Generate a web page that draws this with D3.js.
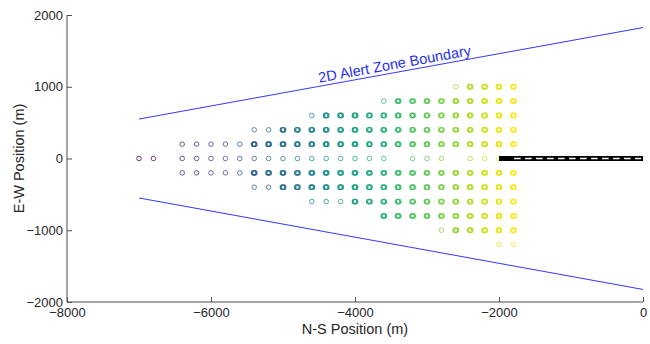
<!DOCTYPE html>
<html>
<head>
<meta charset="utf-8">
<script src="https://cdn.jsdelivr.net/npm/d3@7"></script>
<style>
  html, body { margin: 0; padding: 0; background: #fff; }
  svg { display: block; }
  text { font-family: "Liberation Sans", Arial, Helvetica, sans-serif; }
</style>
</head>
<body>
<svg id="chart" width="650" height="344"></svg>
<script>
// Axis ticks
const xTicks = [-8000, -6000, -4000, -2000, 0];
const yTicks = [-2000, -1000, 0, 1000, 2000];

// Grid columns (N-S position, m) where encounter samples were placed
const gridCols = [-7000, -6800, -6400, -6200, -6000, -5800, -5600, -5400, -5200, -5000,
                  -4800, -4600, -4400, -4200, -4000, -3800, -3600, -3400, -3200, -3000,
                  -2800, -2600, -2400, -2200, -2000, -1800];

// Grid rows (E-W position, m), first column of each row, and where repeated samples begin
const rowY       = [1000, 800, 600, 400, 200, 0, -200, -400, -600, -800, -1000, -1200];
const rowFirstX  = [-2600, -3600, -4600, -5400, -6400, -7000, -6400, -5400, -4600, -3600, -2800, -2000];
const rowRepeatX = [-2400, -3400, -4400, -5000, -5400, 1, -5400, -5000, -4000, -3600, -2600, 1];

// Columns on the centreline with no sample
const centreGaps = [-6600, -3400, -2600];

// Alert zone boundary (upper and lower edges)
const boundaryX = [-7000, 0];
const boundaryUpperY = [550, 1825];
const boundaryLowerY = [-550, -1825];

// Runway extent along the centreline
const runwayX = [-2000, 0];
const runwayY = 0;

const svg = d3.select("#chart");
const plotL = 67, plotR = 643, plotT = 15, plotB = 302;

const x = d3.scaleLinear().domain([-8000, 0]).range([plotL, plotR]);
const y = d3.scaleLinear().domain([-2000, 2000]).range([plotB, plotT]);
const color = d3.scaleSequential(d3.interpolateViridis).domain([-7000, -1800]);

// Build sample list from the grid description
const samples = [];
rowY.forEach((ry, i) => {
  gridCols.forEach(cx => {
    if (cx < rowFirstX[i]) return;
    if (ry === 0 && centreGaps.includes(cx)) return;
    samples.push({ x: cx, y: ry, repeated: cx >= rowRepeatX[i] });
  });
});

// Samples
const pts = svg.append("g").attr("fill", "none");
samples.forEach(d => {
  const offs = d.repeated ? [-0.5, 0.5] : [0];
  offs.forEach(o => {
    pts.append("circle")
      .attr("cx", x(d.x) + o)
      .attr("cy", y(d.y))
      .attr("r", 2.3)
      .attr("stroke", color(d.x))
      .attr("stroke-width", d.repeated ? 1.2 : 0.9)
      .attr("stroke-opacity", d.repeated ? 1 : 0.85);
  });
});

// Runway: black strip with dashed white centreline
svg.append("line")
  .attr("x1", x(runwayX[0])).attr("x2", x(runwayX[1]))
  .attr("y1", y(runwayY)).attr("y2", y(runwayY))
  .attr("stroke", "#000").attr("stroke-width", 5);
svg.append("line")
  .attr("x1", x(-1790)).attr("x2", x(runwayX[1]) - 2)
  .attr("y1", y(runwayY)).attr("y2", y(runwayY))
  .attr("stroke", "#fff").attr("stroke-width", 1.3)
  .attr("stroke-dasharray", "6.5,4.5");

// Boundary lines
const line = d3.line().x(d => x(d[0])).y(d => y(d[1]));
[boundaryUpperY, boundaryLowerY].forEach(ys => {
  svg.append("path")
    .attr("d", line(boundaryX.map((bx, i) => [bx, ys[i]])))
    .attr("fill", "none")
    .attr("stroke", "#3636ff")
    .attr("stroke-width", 1);
});

// Boundary label along the upper edge
const labelX = -3430;
const t = (labelX - boundaryX[0]) / (boundaryX[1] - boundaryX[0]);
const labelY = boundaryUpperY[0] + t * (boundaryUpperY[1] - boundaryUpperY[0]);
const ang = Math.atan2(y(boundaryUpperY[1]) - y(boundaryUpperY[0]),
                       x(boundaryX[1]) - x(boundaryX[0])) * 180 / Math.PI;
svg.append("text")
  .attr("transform", `translate(${x(labelX)},${y(labelY)}) rotate(${ang}) translate(0,-3.5)`)
  .attr("text-anchor", "middle")
  .attr("fill", "#1f2ff0")
  .attr("font-size", 14.5)
  .text("2D Alert Zone Boundary");

// Axes
const axisColor = "#4d4d4d";
const xAxis = svg.append("g").attr("transform", `translate(0,${plotB})`)
  .call(d3.axisBottom(x).tickValues(xTicks).tickSize(-5).tickPadding(9).tickFormat(d3.format("d")));
const yAxis = svg.append("g").attr("transform", `translate(${plotL},0)`)
  .call(d3.axisLeft(y).tickValues(yTicks).tickSize(-5).tickPadding(4).tickFormat(d3.format("d")));
xAxis.select(".domain").attr("stroke", axisColor).attr("d", `M${plotL},0H${plotR}`);
yAxis.select(".domain").attr("stroke", axisColor).attr("d", `M0,${plotT}V${plotB}`);
[xAxis, yAxis].forEach(g => {
  g.selectAll(".tick line").attr("stroke", axisColor);
  g.selectAll(".tick text").attr("fill", "#262626").attr("font-size", 13)
    .attr("font-family", "'Liberation Sans', Arial, sans-serif");
});
xAxis.selectAll(".tick text").attr("dy", "0.45em");

// Axis titles
svg.append("text")
  .attr("x", (plotL + plotR) / 2).attr("y", 334)
  .attr("text-anchor", "middle").attr("fill", "#262626").attr("font-size", 14.5)
  .text("N-S Position (m)");
svg.append("text")
  .attr("transform", `translate(24,${(plotT + plotB) / 2}) rotate(-90)`)
  .attr("text-anchor", "middle").attr("fill", "#262626").attr("font-size", 14.5)
  .text("E-W Position (m)");
</script>
</body>
</html>
